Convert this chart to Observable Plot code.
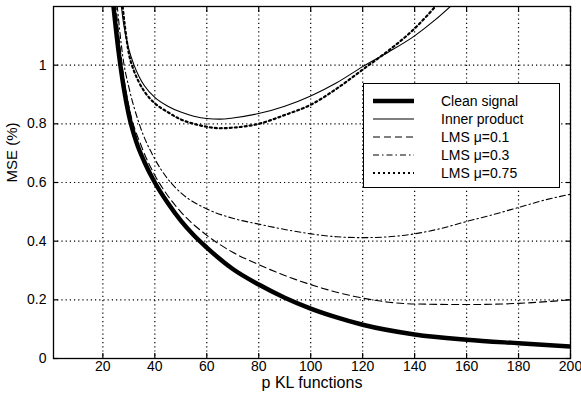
<!DOCTYPE html>
<html>
<head>
<meta charset="utf-8">
<script src="https://cdn.jsdelivr.net/npm/d3@7"></script>
<script src="https://cdn.jsdelivr.net/npm/@observablehq/plot@0.6"></script>
<style>
  html, body { margin: 0; padding: 0; background: #fff; }
  #wrap { position: relative; width: 581px; height: 396px; font-family: "Liberation Sans", Arial, Helvetica, sans-serif; }
  #legend { position: absolute; left: 363px; top: 83px; width: 197px; height: 105px; border: 1.5px solid #000; background: #fff; box-sizing: border-box; }
</style>
</head>
<body>
<div id="wrap"></div>
<script>
// Tick labels
const xTicks = [20, 40, 60, 80, 100, 120, 140, 160, 180, 200];
const yTicks = [0, 0.2, 0.4, 0.6, 0.8, 1];
const xLabel = "p KL functions";
const yLabel = "MSE (%)";

// Series names
const seriesNames = ["Clean signal", "Inner product", "LMS \u03bc=0.1", "LMS \u03bc=0.3", "LMS \u03bc=0.75"];

// Clean signal
const pClean = [23.5, 26, 28, 30, 33, 36, 40, 45, 50, 55, 60, 70, 80, 90, 100, 110, 120, 140, 160, 180, 200];
const mseClean = [1.25, 1.05, 0.925, 0.83, 0.735, 0.67, 0.6, 0.53, 0.47, 0.42, 0.378, 0.305, 0.252, 0.207, 0.17, 0.14, 0.115, 0.082, 0.064, 0.052, 0.041];

// Inner product
const pInner = [26.5, 28, 30, 32, 34, 36, 40, 45, 50, 55, 60, 65, 70, 80, 90, 100, 110, 120, 130, 140, 148, 155];
const mseInner = [1.25, 1.14, 1.055, 1.0, 0.96, 0.93, 0.89, 0.86, 0.84, 0.826, 0.818, 0.816, 0.82, 0.835, 0.86, 0.895, 0.94, 0.995, 1.045, 1.1, 1.155, 1.21];

// LMS mu=0.1
const pLms1 = [24.5, 28, 30, 35, 40, 45, 50, 60, 70, 80, 90, 100, 110, 120, 130, 140, 160, 180, 200];
const mseLms1 = [1.25, 0.96, 0.86, 0.72, 0.625, 0.555, 0.5, 0.42, 0.362, 0.32, 0.283, 0.252, 0.226, 0.206, 0.192, 0.186, 0.184, 0.188, 0.2];

// LMS mu=0.3
const pLms3 = [25, 28, 30, 34, 40, 45, 50, 60, 70, 80, 90, 100, 110, 120, 130, 140, 150, 160, 170, 180, 190, 200];
const mseLms3 = [1.25, 1.01, 0.925, 0.8, 0.68, 0.612, 0.565, 0.51, 0.478, 0.458, 0.44, 0.425, 0.415, 0.412, 0.415, 0.425, 0.443, 0.467, 0.49, 0.515, 0.54, 0.56];

// LMS mu=0.75
const pLms75 = [27, 30, 32, 34, 36, 40, 45, 50, 55, 60, 65, 70, 80, 90, 100, 110, 120, 130, 140, 149];
const mseLms75 = [1.25, 1.04, 0.98, 0.94, 0.91, 0.87, 0.84, 0.815, 0.8, 0.79, 0.785, 0.787, 0.8, 0.83, 0.865, 0.92, 0.985, 1.05, 1.125, 1.21];

const styles = [
  {stroke: "#000", strokeWidth: 4.5, dash: null},
  {stroke: "#000", strokeWidth: 1.1, dash: null},
  {stroke: "#000", strokeWidth: 1.1, dash: "7,4"},
  {stroke: "#000", strokeWidth: 1.1, dash: "6,3,1.5,3"},
  {stroke: "#000", strokeWidth: 2.2, dash: "2,3"}
];

const toRows = (ps, vs) => ps.map((p, i) => ({p, v: vs[i]}));
const series = [
  toRows(pClean, mseClean),
  toRows(pInner, mseInner),
  toRows(pLms1, mseLms1),
  toRows(pLms3, mseLms3),
  toRows(pLms75, mseLms75)
];

const lines = series.map((rows, i) => Plot.line(rows, {
  x: "p", y: "v", curve: "monotone-x", clip: true,
  stroke: styles[i].stroke, strokeWidth: styles[i].strokeWidth,
  strokeDasharray: styles[i].dash || undefined
}));

const gridStyle = {stroke: "#000", strokeOpacity: 1, strokeWidth: 1.2, strokeDasharray: "1.2,3"};

const chart = Plot.plot({
  width: 581,
  height: 396,
  marginLeft: 53,
  marginRight: 11,
  marginTop: 6,
  marginBottom: 38,
  style: {fontFamily: "'Liberation Sans', Arial, Helvetica, sans-serif", fontSize: "13px", color: "#000", background: "#fff"},
  x: {domain: [1, 200]},
  y: {domain: [0, 1.2]},
  marks: [
    Plot.gridX(xTicks, gridStyle),
    Plot.gridY(yTicks, gridStyle),
    ...lines,
    Plot.axisX(xTicks, {anchor: "bottom", tickSize: -5, text: null, label: null, strokeWidth: 1.2}),
    Plot.axisX(xTicks, {anchor: "top", tickSize: -5, text: null, label: null, strokeWidth: 1.2}),
    Plot.axisY(yTicks, {anchor: "left", tickSize: -5, text: null, label: null, strokeWidth: 1.2}),
    Plot.axisY(yTicks, {anchor: "right", tickSize: -5, text: null, label: null, strokeWidth: 1.2}),
    Plot.axisX(xTicks, {anchor: "bottom", tickSize: 0, tickPadding: 3, fontSize: 14, label: null}),
    Plot.axisY(yTicks, {anchor: "left", tickSize: 0, tickPadding: 7, fontSize: 14, tickFormat: d => String(d), label: null}),
    Plot.text([xLabel], {text: d => d, frameAnchor: "bottom", dy: 29, fontSize: 16}),
    Plot.text([yLabel], {text: d => d, frameAnchor: "left", dx: -41, rotate: -90, fontSize: 15}),
    Plot.frame({stroke: "#000", strokeWidth: 1.3})
  ]
});

const wrap = document.getElementById("wrap");
wrap.appendChild(chart);

// Legend overlay
const ns = "http://www.w3.org/2000/svg";
const leg = document.createElement("div");
leg.id = "legend";
const lsvg = document.createElementNS(ns, "svg");
lsvg.setAttribute("width", 194);
lsvg.setAttribute("height", 102);
seriesNames.forEach((name, i) => {
  const y = 17 + i * 18;
  const ln = document.createElementNS(ns, "line");
  ln.setAttribute("x1", 9); ln.setAttribute("x2", 50);
  ln.setAttribute("y1", y); ln.setAttribute("y2", y);
  ln.setAttribute("stroke", styles[i].stroke);
  ln.setAttribute("stroke-width", styles[i].strokeWidth);
  if (styles[i].dash) ln.setAttribute("stroke-dasharray", styles[i].dash);
  lsvg.appendChild(ln);
  const t = document.createElementNS(ns, "text");
  t.setAttribute("x", 77); t.setAttribute("y", y + 5);
  t.setAttribute("font-size", "14px");
  t.setAttribute("font-family", "'Liberation Sans', Arial, sans-serif");
  t.textContent = name;
  lsvg.appendChild(t);
});
leg.appendChild(lsvg);
wrap.appendChild(leg);
</script>
</body>
</html>
